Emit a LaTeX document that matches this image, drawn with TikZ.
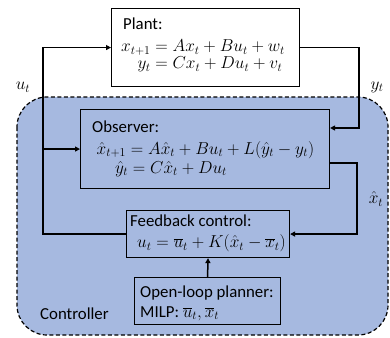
\documentclass[tikz,border=0pt]{standalone}
\usepackage{fontspec}
\setmainfont{Carlito}
\usetikzlibrary{arrows.meta,calc}
\definecolor{ctrlblue}{HTML}{A6B9E0}
\begin{document}
\begin{tikzpicture}[x=1pt,y=-1pt,
  box/.style={draw=black,line width=1.1pt,rectangle,inner sep=0pt,anchor=north west},
  txt/.style={inner sep=0pt,font=\fontsize{16.8}{19}\selectfont},
  eqn/.style={inner sep=0pt,font=\fontsize{16.5}{18}\selectfont},
  conn/.style={line width=1.5pt,line join=miter},
  arr/.style={conn,-{Triangle[length=5pt,width=5pt]}},
  ctrl/.style={draw=black,line width=1.2pt,dash pattern=on 4pt off 2.5pt,fill=ctrlblue,rounded corners=30pt}]
\useasboundingbox (0,0) rectangle (390,337);
\fill[white] (0,0) rectangle (390,337);
% controller region
\draw[ctrl] (17,97) rectangle (388,335);
\node[txt,anchor=base west] (ctrllabel) at (40,319) {Controller};
% boxes
\node[box,minimum width=188pt,minimum height=78pt] (plant) at (111,8) {};
\node[box,fill=ctrlblue,minimum width=249pt,minimum height=79pt] (obs) at (80,109) {};
\node[box,fill=ctrlblue,minimum width=163pt,minimum height=47pt] (fb) at (126,210) {};
\node[box,fill=ctrlblue,minimum width=146pt,minimum height=47pt] (olp) at (134,277) {};
% texts
\node[txt,anchor=base west] (plantT) at (123,30) {Plant:};
\node[eqn,anchor=base west] (plantE) at (121,51.7) {\renewcommand{\arraystretch}{0.93}\begin{tabular}[t]{@{}r@{}l@{}}$x_{t+1}$&${}=Ax_t+Bu_t+w_t$\\$y_t$&${}=Cx_t+Du_t+v_t$\end{tabular}};
\node[txt,anchor=base west] (obsT) at (92,132.7) {Observer:};
\node[eqn,anchor=base west] (obsE1) at (96.5,154) {$\hat{x}_{t+1}=A\hat{x}_t+Bu_t+L(\hat{y}_t-y_t)$};
\node[eqn,anchor=base west] (obsE2) at (115,173) {$\hat{y}_t=C\hat{x}_t+Du_t$};
\node[txt,anchor=base west] (fbT) at (130,226) {Feedback control:};
\node[eqn,anchor=base west] (fbE) at (137,247.7) {$u_t=\overline{u}_t+K(\hat{x}_t-\overline{x}_t)$};
\node[txt,anchor=base west] (olpT) at (140,297.7) {Open-loop planner:};
\node[txt,anchor=base west] (olpE) at (140,317) {MILP: {\fontsize{16.5}{18}\selectfont$\overline{u}_t,\overline{x}_t$}};
% signal labels
\node[eqn] (ulab) at (23,87) {$u_t$};
\node[eqn] (ylab) at (377,87) {$y_t$};
\node[eqn] (xlab) at (376,199) {$\hat{x}_t$};
% connectors
\coordinate (uleft) at (43,0);
\coordinate (yright) at (359,0);
\coordinate (xright) at (357,0);
\coordinate (yin) at ($(obs.north east)+(0,19)$);
\coordinate (xout) at ($(obs.north east)+(0,54)$);
\draw[arr] (fb.west) -- (fb.west -| uleft) -- (plant.west -| uleft) -- (plant.west);
\draw[arr] (obs.west -| uleft) -- (obs.west);
\draw[arr] (plant.east) -- (plant.east -| yright) -- (yin -| yright) -- (yin);
\draw[arr] (xout) -- (xout -| xright) -- (fb.east -| xright) -- (fb.east);
\draw[arr] (olp.north) -- (fb.south);
\end{tikzpicture}
\end{document}
